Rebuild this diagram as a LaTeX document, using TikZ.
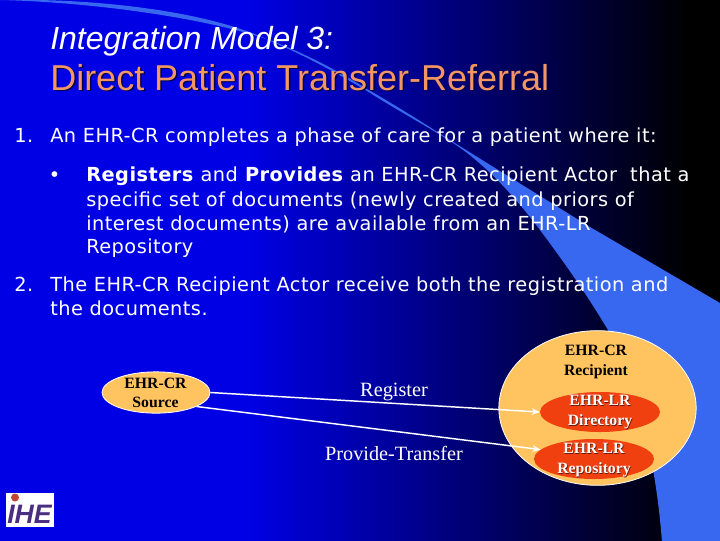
\documentclass[tikz,border=0pt]{standalone}
\usepackage{fontspec}
\setmainfont{Liberation Serif}
\setsansfont{Liberation Sans}
\newfontfamily\vera[LetterSpace=2.5]{DejaVu Sans}
\usetikzlibrary{shapes.geometric,arrows.meta}
\definecolor{swoosh}{RGB}{56,104,240}
\definecolor{peach}{RGB}{255,196,96}
\definecolor{redor}{RGB}{240,64,16}
\definecolor{titleor}{RGB}{244,150,100}
\definecolor{bgblue}{RGB}{0,0,228}
\definecolor{logopurple}{RGB}{75,45,130}
\definecolor{logoball}{RGB}{190,70,50}
\tikzset{
 body/.style={anchor=base west,text=white,font=\vera\fontsize{14.5}{14.5}\selectfont,inner sep=0},
 ttl/.style={anchor=base west,inner sep=0},
 oval/.style={ellipse,draw=white,line width=0.6pt,inner sep=0},
 lbl/.style={align=center,font=\fontsize{11.8}{14.8}\selectfont\bfseries,inner sep=0},
 conn/.style={draw=white,line width=1.1pt,-{Stealth[length=6pt,width=5pt]}},
 flowtext/.style={anchor=base,text=white,font=\fontsize{15.2}{15.2}\selectfont},
}
\begin{document}
\begin{tikzpicture}[x=0.75pt,y=-0.75pt]
\useasboundingbox (0,0) rectangle (720,540);
\clip (0,0) rectangle (720,540);
\fill[black] (-2,-2) rectangle (722,542);
\fill[bgblue] (-2,-2) rectangle (250,542);
\shade[left color=bgblue,right color=black] (249.5,-2) rectangle (690,542);
% swoosh
\fill[swoosh] (0,0) .. controls (90,-2) and (210,10) .. (275,43)
  .. controls (310,58) and (340,75) .. (367,91)
  .. controls (400,112) and (425,125) .. (450,141)
  .. controls (480,160) and (510,190) .. (540,230)
  .. controls (570,270) and (590,300) .. (608,330)
  .. controls (635,385) and (655,450) .. (662,542)
  -- (722,542) -- (722,303) -- (720,303) -- (590,227) -- (450,140)
  .. controls (425,124) and (400,108) .. (367,89)
  .. controls (340,72) and (310,56) .. (275,42)
  .. controls (210,18) and (90,2) .. (0,0) -- cycle;
% titles
\node[ttl,text=white,font=\sffamily\itshape\fontsize{24}{24}\selectfont] (t1) at (50,49) {Integration Model 3:};
\node[ttl,text=black!70!blue,font=\sffamily\fontsize{27}{27}\selectfont] (t2s) at (51.5,91.5) {Direct Patient Transfer-Referral};
\node[ttl,text=titleor,font=\sffamily\fontsize{27}{27}\selectfont] (t2) at (50,90) {Direct Patient Transfer-Referral};
% body
\node[body] (a1) at (14,142) {1.};
\node[body] (a2) at (50,142) {An EHR-CR completes a phase of care for a patient where it:};
\node[body,font=\fontsize{18}{18}\selectfont] (b0) at (50,182) {•};
\node[body] (b1) at (86,181) {\textbf{Registers} and \textbf{Provides} an EHR-CR Recipient Actor\ \ that a};
\node[body] (b2) at (86,206) {specific set of documents (newly created and priors of};
\node[body] (b3) at (86,230) {interest documents) are available from an EHR-LR};
\node[body] (b4) at (86,253) {Repository};
\node[body] (c1) at (14,291) {2.};
\node[body] (c2) at (50,291) {The EHR-CR Recipient Actor receive both the registration and};
\node[body] (c3) at (50,315) {the documents.};
% ovals
\node[oval,fill=peach,minimum width=81pt,minimum height=31pt] (src) at (156,392.5) {};
\node[lbl,text=black] (srct) at (155.5,393) {EHR-CR\\Source};
\node[oval,fill=peach,minimum width=148pt,minimum height=116pt] (rec) at (597.5,408) {};
\node[lbl,anchor=north,text=black] (rect) at (596,345) {EHR-CR\\Recipient};
\node[ellipse,fill=redor,inner sep=0,minimum width=90pt,minimum height=30pt] (dir) at (600,412) {};
\node[lbl,text=black!60!redor] (dirs) at (600.7,412.7) {EHR-LR\\Directory};
\node[lbl,text=white] (dirt) at (600,412) {EHR-LR\\Directory};
\node[ellipse,fill=redor,inner sep=0,minimum width=90pt,minimum height=30pt] (repo) at (594,459) {};
\node[lbl,text=black!60!redor] (repos) at (594.7,460.7) {EHR-LR\\Repository};
\node[lbl,text=white] (repot) at (594,460) {EHR-LR\\Repository};
% connectors
\draw[conn] (src.east) -- (dir.west);
\draw[conn] (src.-19) -- (repo.170);
\node[flowtext] (reg) at (394,396) {Register};
\node[flowtext] (prov) at (394,460) {Provide-Transfer};
% logo
\node[fill=white,minimum width=36pt,minimum height=25.5pt,inner sep=0] (logo) at (30,510) {};
\node[text=logopurple,font=\sffamily\bfseries\itshape\fontsize{20}{20}\selectfont,inner sep=0] (logot) at (29.5,514.5) {IHE};
\fill[logoball] (15,497.5) circle (4);
\end{tikzpicture}
\end{document}
